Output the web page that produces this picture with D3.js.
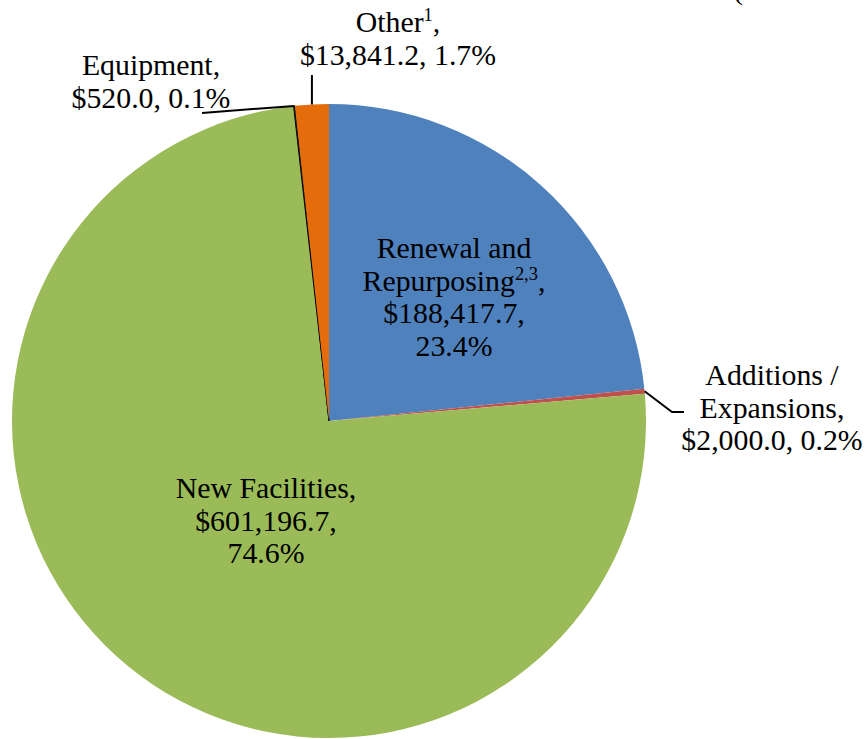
<!DOCTYPE html>
<html>
<head>
<meta charset="utf-8">
<script src="https://cdn.jsdelivr.net/npm/d3@7"></script>
<style>
  html, body { margin: 0; padding: 0; background: #fff; }
</style>
</head>
<body>
<div id="chart"></div>
<script>
// Slice data, clockwise from 12 o'clock
const categories = ["Renewal and Repurposing", "Additions / Expansions", "New Facilities", "Equipment", "Other"];
const amounts = [188417.7, 2000.0, 601196.7, 520.0, 13841.2];
const percents = ["23.4%", "0.2%", "74.6%", "0.1%", "1.7%"];
const amountLabels = ["$188,417.7", "$2,000.0", "$601,196.7", "$520.0", "$13,841.2"];
const colors = ["#4F81BD", "#C0504D", "#9BBB59", "#2A2A2A", "#E46C0A"];

const width = 867, height = 739;
const cx = 329, cy = 421, radius = 317;
const fontSize = 29.8, lineH = 32.6;
const fontFamily = "Liberation Serif";

const svg = d3.select("#chart").append("svg")
    .attr("width", width)
    .attr("height", height);

// cut-off title remnant at top right
svg.append("text")
    .attr("x", 733).attr("y", -1)
    .attr("font-family", fontFamily)
    .attr("font-size", fontSize)
    .text("(");

const g = svg.append("g").attr("transform", `translate(${cx},${cy})`);

const data = categories.map((c, i) => ({ name: c, value: amounts[i], i }));

const pie = d3.pie().value(d => d.value).sort(null);
const arc = d3.arc().innerRadius(0).outerRadius(radius);
const arcs = pie(data);

g.selectAll("path.slice")
    .data(arcs)
    .enter()
    .append("path")
    .attr("class", "slice")
    .attr("d", arc)
    .attr("fill", d => colors[d.data.i])
    .attr("stroke", d => d.data.i === 3 ? "#000" : "none")
    .attr("stroke-width", 1);

// point on the rim at a slice's middle angle
function rimPoint(d, r) {
    const a = (d.startAngle + d.endAngle) / 2;
    return [r * Math.sin(a), -r * Math.cos(a)];
}

// Leader lines (relative to pie centre)
const lineG = g.append("g")
    .attr("fill", "none")
    .attr("stroke", "#000")
    .attr("stroke-width", 2);

// Other: straight up
const pOther = rimPoint(arcs[4], radius);
lineG.append("path").attr("d", d3.line()([pOther, [pOther[0], 75 - cy]]));

// Equipment: left to label
const pEquip = rimPoint(arcs[3], radius);
lineG.append("path").attr("d", d3.line()([pEquip, [202 - cx, 113 - cy]]));

// Additions: diagonal then horizontal
const pAdd = rimPoint(arcs[1], radius);
lineG.append("path").attr("d", d3.line()([pAdd, [672 - cx, 412 - cy], [684 - cx, 412 - cy]]));

// Label helper: each line is a list of [text, isSuper] pieces,
// drawn as separate text elements centred on x
function label(x, y, lines) {
    lines.forEach((parts, li) => {
        const ly = y + li * lineH;
        const nodes = parts.map(p => svg.append("text")
            .attr("font-family", fontFamily)
            .attr("font-size", p[1] ? fontSize * 0.62 : fontSize)
            .attr("y", p[1] ? ly - 11 : ly)
            .text(p[0]));
        const widths = nodes.map(n => n.node().getComputedTextLength());
        let cur = x - d3.sum(widths) / 2;
        nodes.forEach((n, k) => { n.attr("x", cur); cur += widths[k]; });
    });
}

label(398, 32, [[["Other", false], ["1", true], [",", false]],
                [[amountLabels[4] + ", " + percents[4], false]]]);

label(151, 75, [[["Equipment,", false]],
                [[amountLabels[3] + ", " + percents[3], false]]]);

label(772, 385, [[["Additions /", false]],
                 [["Expansions,", false]],
                 [[amountLabels[1] + ", " + percents[1], false]]]);

label(454, 258, [[["Renewal and", false]],
                 [["Repurposing", false], ["2,3", true], [",", false]],
                 [[amountLabels[0] + ",", false]],
                 [[percents[0], false]]]);

label(266, 498, [[["New Facilities,", false]],
                 [[amountLabels[2] + ",", false]],
                 [[percents[2], false]]]);
</script>
</body>
</html>
